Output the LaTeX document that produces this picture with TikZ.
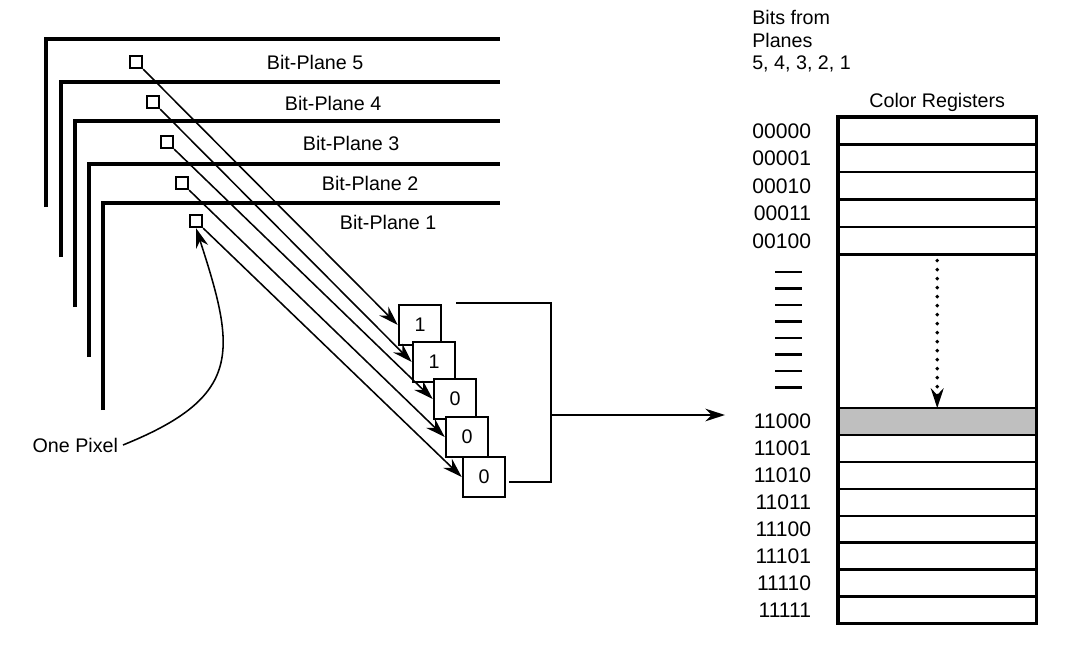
\documentclass[tikz,border=0pt]{standalone}
\usepackage{fontspec}
\setmainfont{Liberation Sans}
\usetikzlibrary{arrows.meta,calc,positioning}
\tikzstyle{plane}=[
  line width=2.2pt,
]
\tikzstyle{pixel}=[
  draw, line width=1.6pt,
  minimum size=0.3cm, inner sep=0pt,
]
\tikzstyle{bitbox}=[
  draw, fill=white, line width=1.8pt,
  minimum width=1.05cm, minimum height=1cm, inner sep=0pt,
]
\tikzstyle{register}=[
  draw, line width=1.6pt, outer sep=0pt, inner sep=0pt,
  minimum width=4.96cm, minimum height=0.6875cm,
]
\tikzstyle{lowreg}=[
  register, minimum height=0.672cm,
]
\tikzstyle{reglabel}=[
  font=\fontsize{15}{17}\selectfont,
]
\tikzstyle{arrow}=[
  draw=black, line width=1.1pt, -{Stealth[length=14pt,width=9pt]},
]
\tikzstyle{dotline}=[
  line width=2.8pt, line cap=round, dash pattern=on 0pt off 0.225cm,
  shorten <=0.15cm, -{Stealth[length=14pt,width=9pt]},
]
\tikzset{
  node distance=0pt,
}

\begin{document}
\begin{tikzpicture}[x=0.025cm, y=-0.025cm,
  font=\fontsize{14}{16}\selectfont]
  \useasboundingbox (0,0) rectangle (1070,663);
  % bit-planes
  \draw[plane] (46,207) |- (500,39);
  \draw[plane] (61,257) |- (500,82);
  \draw[plane] (75,307) |- (500,121);
  \draw[plane] (89,357) |- (500,164);
  \draw[plane] (103,410) |- (500,203);
  \node[pixel] (p5) at (136,62) {};
  \node[pixel] (p4) at (153,102) {};
  \node[pixel] (p3) at (167,142) {};
  \node[pixel] (p2) at (182,183) {};
  \node[pixel] (p1) at (196,221) {};
  \node[anchor=west] (t5) at (262,62) {Bit-Plane 5};
  \node[anchor=west] (t4) at (280,103) {Bit-Plane 4};
  \node[anchor=west] (t3) at (298,143) {Bit-Plane 3};
  \node[anchor=west] (t2) at (317,183) {Bit-Plane 2};
  \node[anchor=west] (t1) at (335,222) {Bit-Plane 1};
  \node[anchor=east] (onepix) at (123,445) {One Pixel};
  \draw[arrow] (onepix.east) to[out=22,in=-72,looseness=1.45] (p1.south);
  % bits of the pixel
  \node[bitbox] (b1) at (420,325) {1};
  \node[bitbox] (b2) at (434,362) {1};
  \node[bitbox] (b3) at (455,399) {0};
  \node[bitbox] (b4) at (467,437) {0};
  \node[bitbox] (b5) at (484,477) {0};
  \draw[arrow] (p5.south east) -- (b1.west);
  \draw[arrow] (p4.south east) -- (b2.west);
  \draw[arrow] (p3.south east) -- (b3.west);
  \draw[arrow] (p2.south east) -- (b4.west);
  \draw[arrow] (p1.south east) -- (b5.west);
  \coordinate (bt) at (551,303);
  \coordinate (bb) at (551,482);
  \coordinate (bm) at (551,415);
  \coordinate (into) at (725,415);
  \draw[line width=1.4pt] (b2.east|-bt) -- (bt) -- (bb) -- ($(b5.east|-bb)+(3,0)$);
  \draw[arrow] (bm) -- (into);
  % color registers
  \node[anchor=north west, align=left, inner sep=0pt] (hdr) at (752,10)
    {Bits from\\Planes\\5, 4, 3, 2, 1};
  \node[register, anchor=north west] (reg0) at (838,117) {};
  \node[register, below=of reg0] (reg1) {};
  \node[register, below=of reg1] (reg2) {};
  \node[register, below=of reg2] (reg3) {};
  \node[register, below=of reg3] (reg4) {};
  \node[register, below=of reg4, minimum height=3.84cm] (regmid) {};
  \node[lowreg, below=of regmid, fill=black!25] (reg24) {};
  \node[lowreg, below=of reg24] (reg25) {};
  \node[lowreg, below=of reg25] (reg26) {};
  \node[lowreg, below=of reg26] (reg27) {};
  \node[lowreg, below=of reg27] (reg28) {};
  \node[lowreg, below=of reg28] (reg29) {};
  \node[lowreg, below=of reg29] (reg30) {};
  \node[lowreg, below=of reg30] (reg31) {};
  \draw[line width=2.4pt] (reg0.north west) rectangle (reg31.south east);
  \node[above=of reg0] (title) {Color Registers};
  \node[reglabel, left=0.55cm of reg0] (lab0) {00000};
  \node[reglabel, left=0.55cm of reg1] (lab1) {00001};
  \node[reglabel, left=0.55cm of reg2] (lab2) {00010};
  \node[reglabel, left=0.55cm of reg3] (lab3) {00011};
  \node[reglabel, left=0.55cm of reg4] (lab4) {00100};
  \node[reglabel, left=0.55cm of reg24] (lab24) {11000};
  \node[reglabel, left=0.55cm of reg25] (lab25) {11001};
  \node[reglabel, left=0.55cm of reg26] (lab26) {11010};
  \node[reglabel, left=0.55cm of reg27] (lab27) {11011};
  \node[reglabel, left=0.55cm of reg28] (lab28) {11100};
  \node[reglabel, left=0.55cm of reg29] (lab29) {11101};
  \node[reglabel, left=0.55cm of reg30] (lab30) {11110};
  \node[reglabel, left=0.55cm of reg31] (lab31) {11111};
  \draw[line width=1.6pt] (775,272) -- ++(27,0) (775,288.5) -- ++(27,0)
    (775,305) -- ++(27,0) (775,321.5) -- ++(27,0) (775,338) -- ++(27,0)
    (775,354.5) -- ++(27,0) (775,371) -- ++(27,0) (775,387.5) -- ++(27,0);
  \draw[dotline] (regmid.north) -- (reg24.north);
\end{tikzpicture}
\end{document}
